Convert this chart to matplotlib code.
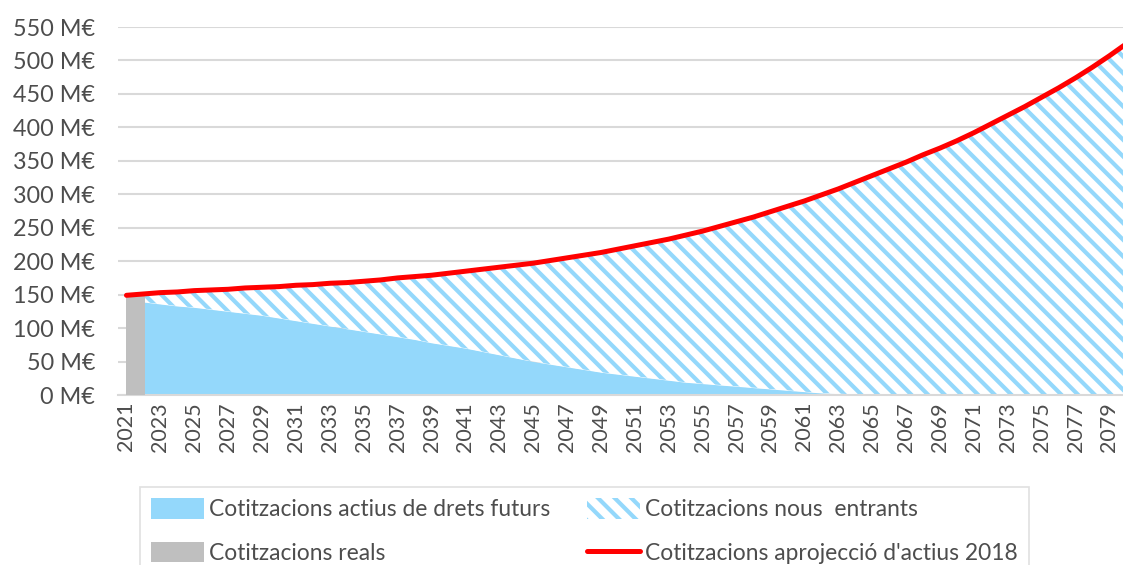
import matplotlib
matplotlib.use("Agg")
import matplotlib.pyplot as plt
import numpy as np

years = list(range(2021, 2081))

# Cotitzacions aprojecció d'actius 2018 (red line), M€
projeccio = [149, 151, 153, 154, 156, 157, 158, 160, 161, 162,
             164, 165, 167, 168, 170, 172, 175, 177, 179, 182,
             185, 188, 191, 194, 197, 201, 205, 209, 213, 218,
             223, 228, 233, 239, 245, 252, 259, 266, 274, 282,
             290, 299, 308, 318, 328, 338, 348, 359, 369, 380,
             392, 405, 418, 431, 445, 459, 474, 490, 507, 525]

# Cotitzacions actius de drets futurs (from 2022)
actius_years = list(range(2022, 2081))
actius = [139, 136, 133, 131, 128, 125, 122, 119, 115, 111,
          107, 103, 99, 95, 91, 87, 83, 78, 74, 70,
          65, 60, 55, 50, 46, 42, 38, 34, 31, 28,
          25, 22, 19, 17, 15, 13, 11, 9, 7, 5,
          3, 2, 1, 0.5, 0, 0, 0, 0, 0, 0,
          0, 0, 0, 0, 0, 0, 0, 0, 0]

# Cotitzacions reals
reals_year = [2021]
reals = [148]

blue = "#94d8fb"
gray = "#bfbfbf"
red = "#ff0000"
txt = "#4d4d4d"

plt.rcParams["font.family"] = ["Lato", "DejaVu Sans"]
plt.rcParams["hatch.linewidth"] = 3.0

fig = plt.figure(figsize=(11.23, 5.65), dpi=100)
ax = fig.add_axes([118 / 1123, 1 - 395 / 565, 1 - 118 / 1123, (395 - 27) / 565])

# gray bar slightly overlaps the start of the blue area (no white seam)
ax.bar(reals_year, reals, width=1.08, align="edge", color=gray, linewidth=0,
       label="Cotitzacions reals", zorder=3)

proj_from_2022 = projeccio[1:]
ax.fill_between(actius_years, 0, actius, color=blue, linewidth=0,
                label="Cotitzacions actius de drets futurs", zorder=2)
ax.fill_between(actius_years, actius, proj_from_2022, facecolor="white",
                edgecolor=blue, hatch="\\\\", linewidth=0,
                label="Cotitzacions nous  entrants", zorder=2)
ax.plot(years, projeccio, color=red, linewidth=3.6, solid_capstyle="round",
        label="Cotitzacions aprojecció d'actius 2018", zorder=4)

ax.set_xlim(2020.5, 2079.8)
ax.set_ylim(0, 550)
ax.set_yticks(np.arange(0, 551, 50))
ax.set_yticklabels([f"{v} M€" for v in range(0, 551, 50)])
ax.set_xticks(years[::2])
ax.set_xticklabels([str(y) for y in years[::2]], rotation=90)
ax.tick_params(axis="y", length=0, labelsize=16.8, colors=txt, pad=16.5)
ax.tick_params(axis="x", length=0, labelsize=15.5, colors=txt, pad=5)
ax.grid(axis="y", color="#d9d9d9", linewidth=1.5, zorder=0)
ax.set_axisbelow(True)
for s in ["top", "right", "left"]:
    ax.spines[s].set_visible(False)
ax.spines["bottom"].set_color("#d9d9d9")
ax.spines["bottom"].set_linewidth(1.5)

h, l = ax.get_legend_handles_labels()
order = ["Cotitzacions actius de drets futurs", "Cotitzacions reals",
         "Cotitzacions nous  entrants", "Cotitzacions aprojecció d'actius 2018"]
hd = dict(zip(l, h))
leg = fig.legend([hd[k] for k in order], order, ncol=2, loc="upper left",
                 bbox_to_anchor=(140 / 1123, 1 - 487 / 565),
                 fontsize=16.4, frameon=True, fancybox=False,
                 edgecolor="#d9d9d9", handlelength=2.3, handleheight=1.0,
                 handletextpad=0.25, columnspacing=1.6, labelspacing=0.95,
                 borderpad=0.5, borderaxespad=0)
for t in leg.get_texts():
    t.set_color(txt)
leg.get_frame().set_linewidth(1.2)

fig.savefig("out.png", dpi=100)
